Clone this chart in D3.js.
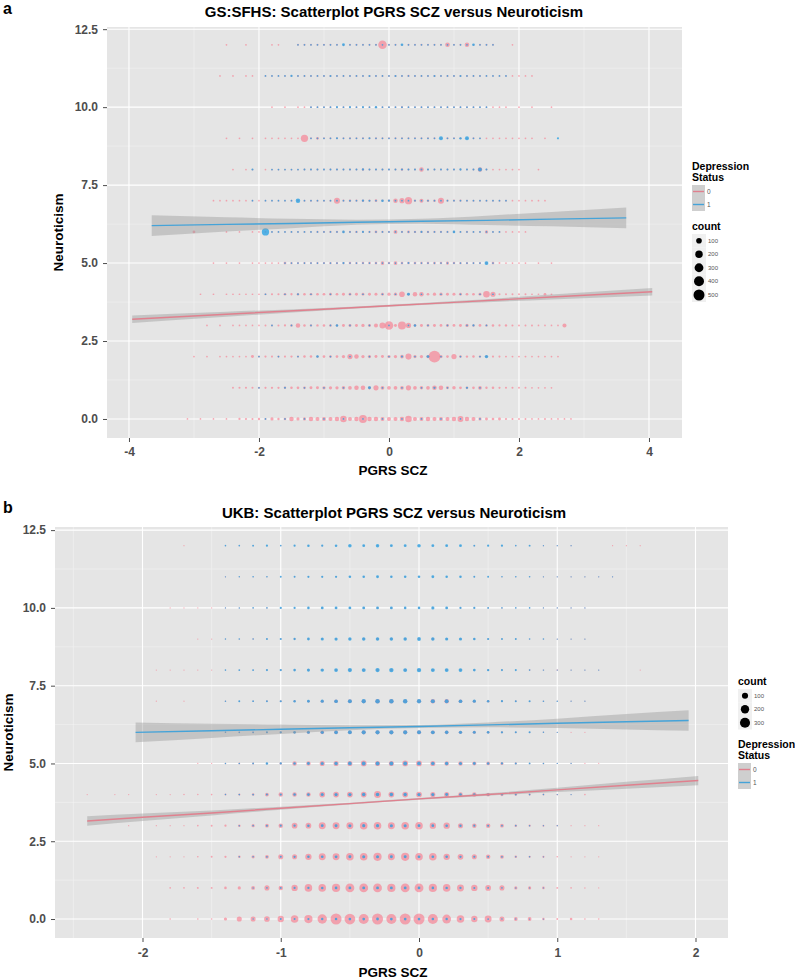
<!DOCTYPE html>
<html><head><meta charset="utf-8">
<script src="https://cdn.jsdelivr.net/npm/d3@7"></script>
<style>body{margin:0;background:#fff}svg{display:block}</style>
</head><body><svg id="c" width="795" height="980"></svg>
<script>
// ---------------- DATA ----------------
const neuroLevels = [0,1,2,3,4,5,6,7,8,9,10,11,12];
const binStep = 0.1;
const gsX0 = -3.2;   // first PGRS bin of GS:SFHS rows
const ukbX0 = -2.4;  // first PGRS bin of UKB rows
const yTicks = [0,2.5,5,7.5,10,12.5];
const gsTicksX = [-4,-2,0,2,4];
const ukbTicksX = [-2,-1,0,1,2];
const gsLegendCounts = [100,200,300,400,500];
const ukbLegendCounts = [100,200,300];
const statusLabels = ["0","1"];

// GS:SFHS counts, depression status 0 (rows = neuroticism 0..12, cols = PGRS bins from -3.2 by 0.1)
const gsCounts0 = [
[0,1,0,1,0,1,0,1,0,5, 4,3,6,4,20,6,10,55,20,20, 55,40,40,40,55,150,40,55,240,55, 55,40,40,40,55,150,40,40,55,40, 40,40,55,120,55,40,20,15,10,15, 4,3,2,2,1,1,2,1,1,1, 1],
[0,0,0,0,0,0,0,0,2,3, 3,3,4,4,5,5,6,8,10,10, 15,15,20,20,20,25,30,55,55,20, 80,30,30,30,30,80,30,25,30,55, 55,15,25,12,10,10,30,6,8,4, 3,3,2,2,1,1,1,1,0,0, 0],
[0,0,1,0,1,0,1,1,1,1, 1,15,3,4,3,4,3,5,4,8, 8,6,10,10,10,20,80,55,20,20, 15,15,20,20,30,120,20,20,20,600, 20,10,80,10,6,8,6,8,4,3, 2,2,2,2,1,1,1,1,1,0, 0],
[0,0,0,0,1,0,1,0,1,1, 1,1,1,2,3,3,4,8,55,8, 6,6,8,8,6,15,15,15,20,15, 40,120,280,15,240,80,10,15,12,15, 12,15,12,15,20,8,12,6,8,4, 6,3,2,2,2,1,1,1,1,41, 0],
[0,0,0,1,0,1,0,1,1,1, 1,1,1,3,3,4,10,5,8,8, 10,10,10,12,10,15,12,15,12,15, 15,15,20,20,100,10,55,55,10,20, 20,15,15,15,10,10,15,150,80,3, 2,2,2,2,1,1,10,1,0,0, 0],
[0,0,0,0,0,1,0,1,0,1, 0,1,1,1,1,1,12,6,4,5, 4,5,5,6,6,6,8,6,8,8, 10,30,8,35,10,8,10,8,8,10, 8,20,8,6,6,4,4,6,10,2, 1,1,1,1,0,1,0,1,0,0, 0],
[0,0,12,0,0,0,0,1,0,1, 0,1,1,1,1,1,1,2,2,2, 2,3,3,4,4,4,3,6,3,4, 10,4,3,35,4,10,6,6,6,4, 4,3,4,2,3,2,2,20,2,2, 1,1,1,1,0,0,0,0,0,0, 0],
[0,0,0,0,0,1,1,1,1,1, 1,1,1,1,1,1,1,2,4,2, 3,3,3,3,120,4,8,4,8,4, 10,4,6,55,80,190,6,41,8,8, 120,4,4,4,3,3,2,2,2,2, 2,1,1,1,1,1,1,0,0,0, 0],
[0,0,0,0,0,0,0,0,1,0, 1,1,0,1,1,1,1,1,1,2, 2,3,2,2,4,2,4,2,6,3, 3,3,3,3,6,3,3,55,3,3, 2,2,3,2,2,3,55,2,1,1, 1,1,1,0,0,1,0,0,0,0, 0],
[0,0,0,0,0,0,0,1,0,1, 0,1,0,1,1,1,1,1,1,190, 2,12,2,2,2,2,4,2,3,2, 4,2,2,3,2,2,2,2,2,2, 2,3,2,2,2,2,1,1,1,1, 1,1,1,1,1,0,1,0,0,0, 0],
[0,0,0,0,0,0,0,0,0,0, 0,0,0,0,1,0,1,0,1,1, 2,2,2,2,1,2,1,2,1,2, 2,2,2,2,4,2,2,2,2,2, 2,2,2,2,2,2,1,1,1,1, 1,0,1,0,1,0,0,1,0,0, 0],
[0,0,0,0,0,0,1,0,1,0, 1,1,0,1,1,1,1,1,2,2, 2,2,2,3,2,2,2,2,2,3, 2,2,2,3,2,4,2,2,2,3, 2,3,2,2,2,2,2,1,1,1, 1,1,1,1,1,0,0,0,0,0, 0],
[0,0,0,0,0,0,0,1,0,0, 1,0,0,0,1,1,0,0,2,2, 2,2,3,2,2,1,2,2,2,2, 3,280,2,2,1,2,2,3,2,2, 3,60,2,2,55,1,2,2,2,0, 0,1,0,0,0,0,0,0,0,0, 0]
];
// GS:SFHS counts, depression status 1
const gsCounts1 = [
[0,0,0,0,0,0,0,0,0,0, 0,0,0,1,0,0,1,0,0,1, 0,0,1,0,0,1,0,0,1,0, 0,1,0,0,1,0,0,1,0,0, 1,0,0,1,0,0,1,0,0,0, 0,0,0,0,0,0,0,0,0,0, 0],
[0,0,0,0,0,0,0,0,0,0, 0,0,1,0,0,0,2,0,0,1, 0,0,1,0,0,1,0,0,0,15, 0,1,0,0,1,0,0,1,0,5, 0,1,0,0,4,0,1,0,0,0, 0,0,0,0,0,0,0,0,0,0, 0],
[0,0,0,0,0,0,0,0,0,0, 0,0,1,0,0,1,0,0,1,0, 0,8,0,1,0,0,1,0,0,1, 0,0,1,0,3,0,1,0,12,0, 1,0,0,1,0,0,1,25,0,0, 0,0,0,0,0,0,0,0,0,0, 0],
[0,0,0,0,0,0,0,0,0,0, 0,0,0,0,1,0,0,1,0,0, 1,0,0,1,8,0,1,0,0,1, 0,0,1,0,0,1,8,0,1,0, 0,1,0,0,1,4,0,1,0,0, 0,0,0,0,0,0,0,0,0,0, 0],
[0,0,0,0,0,0,0,0,0,0, 0,0,0,1,0,0,1,0,2,0, 1,0,0,1,0,0,1,0,1,0, 0,1,0,1,0,15,0,1,0,0, 1,0,0,1,0,0,1,0,1,0, 0,0,0,0,0,0,0,0,0,0, 0],
[0,0,0,0,0,0,0,0,0,0, 0,0,0,0,0,0,1,1,1,1, 1,1,1,1,1,4,1,1,1,1, 1,1,1,1,1,3,1,1,1,1, 1,1,1,1,1,1,1,35,1,0, 0,0,0,0,0,0,0,0,0,0, 0],
[0,0,0,0,0,0,0,0,0,0, 0,0,0,190,1,1,1,1,1,1, 1,1,1,1,1,8,1,1,3,1, 1,1,1,1,1,1,1,3,1,1, 1,1,8,1,1,1,1,1,1,1, 0,0,0,0,0,0,0,0,0,0, 0],
[0,0,0,0,0,0,0,0,0,0, 0,1,0,1,1,1,1,1,55,1, 1,1,1,1,1,1,2,1,5,3, 1,8,4,1,1,1,1,1,1,1, 1,1,1,1,1,1,1,1,1,1, 1,0,0,0,0,0,0,0,0,0, 0],
[0,0,0,0,0,0,0,0,0,0, 0,3,0,0,1,1,1,1,1,2, 2,2,2,2,2,2,2,2,5,2, 2,2,2,2,4,2,2,2,2,2, 2,2,2,5,2,2,35,2,0,0, 0,0,0,0,0,0,0,0,0,0, 0],
[0,0,0,0,0,0,0,0,0,0, 0,0,0,0,0,0,0,0,0,0, 1,1,1,1,3,1,1,1,1,3, 1,1,1,1,1,1,1,1,1,1, 40,1,1,6,40,1,1,0,0,0, 0,0,0,0,0,0,0,0,4,0, 0],
[0,0,0,0,0,0,0,0,0,0, 0,0,0,0,0,0,0,0,0,0, 1,1,1,1,3,1,3,1,3,1, 6,1,1,1,2,1,1,1,1,1, 1,1,1,1,1,1,1,1,0,0, 0,0,0,0,0,0,0,0,0,0, 0],
[0,0,0,0,0,0,0,0,0,0, 0,0,0,1,1,1,1,5,1,1, 1,1,1,3,1,1,1,1,1,3, 1,1,1,3,1,1,1,1,1,3, 1,1,1,3,1,1,1,1,1,1, 1,0,0,0,0,0,0,0,0,0, 0],
[0,0,0,0,0,0,0,0,0,0, 0,0,0,0,0,0,0,0,1,1, 1,1,1,1,1,12,1,1,1,1, 1,1,1,1,10,1,1,1,1,1, 1,1,1,1,1,10,1,1,1,0, 0,0,0,0,0,0,0,0,0,0, 0]
];
// UKB counts, depression status 0 (cols = PGRS bins from -2.4 by 0.1)
const ukbCounts0 = [
[0,0,0,0,0,0,3,0,3,3,21,65,65,85,108,161,192,261,363,341,300,363,300,363,363,300,225,160,108,133,65,33,33,12,5,12,3,3,0,0,0],
[0,0,0,0,0,0,3,3,5,5,12,21,33,65,48,108,161,161,192,225,225,225,192,225,225,192,161,133,108,85,65,21,21,12,5,3,2,1,0,0,0],
[0,0,0,0,0,1,1,1,3,5,8,12,21,33,65,65,108,133,133,161,161,192,133,192,161,161,108,85,65,48,33,12,8,8,3,1,1,1,0,0,0],
[0,0,0,1,0,1,1,1,3,5,8,12,21,33,48,85,85,133,133,133,161,161,133,161,161,108,108,65,48,48,33,12,8,5,3,1,1,1,0,0,0],
[1,0,1,1,0,1,1,2,2,3,5,8,12,33,48,48,48,85,85,85,85,133,85,85,85,65,65,48,48,33,21,12,8,5,3,1,3,0,0,0,0],
[0,0,0,0,0,0,0,0,1,1,3,4,6,5,10,48,48,65,65,65,85,65,65,85,85,65,48,48,40,30,20,8,3,3,1,1,1,1,0,0,0],
[0,0,0,0,0,0,0,0,0,0,2,3,4,5,6,10,20,30,35,35,40,40,40,40,40,35,30,25,20,12,8,5,3,2,1,1,1,0,0,0,0],
[0,0,0,0,0,1,0,1,0,0,2,2,3,4,5,8,12,20,30,35,40,45,45,40,40,50,50,30,20,10,6,4,3,2,1,1,1,0,0,0,0],
[0,0,0,0,0,1,1,1,1,1,1,2,2,3,4,5,6,8,10,12,12,14,14,12,12,10,9,7,5,4,3,2,3,2,3,1,1,1,0,0,1],
[0,0,0,0,0,0,0,0,1,1,1,1,2,2,3,5,4,6,7,8,9,9,9,9,9,12,7,6,4,3,2,2,1,1,1,1,1,0,0,0,0],
[0,0,0,0,0,0,1,1,1,1,1,1,1,2,2,2,3,4,5,5,5,6,6,5,5,4,4,3,3,2,2,1,1,1,1,1,1,0,0,0,0],
[0,0,0,0,0,0,0,0,0,0,1,1,1,1,1,2,2,2,3,3,3,3,3,3,3,3,2,2,2,1,1,1,1,1,1,1,1,1,1,0,0],
[0,0,0,0,0,0,0,1,0,0,1,1,1,1,1,1,2,2,2,2,2,2,2,2,2,2,2,1,2,1,1,1,1,1,1,1,0,0,1,1,1]
];
// UKB counts, depression status 1
const ukbCounts1 = [
[0,0,0,0,0,0,0,0,0,0,0,0,2,3,5,6,8,10,12,14,14,15,14,14,14,12,10,8,6,4,3,2,1,1,0,0,0,0,0,0,0],
[0,0,0,0,0,0,0,0,0,0,0,0,2,3,5,7,9,11,13,15,16,16,16,15,14,12,10,8,6,5,3,2,1,1,0,0,0,0,0,0,0],
[0,0,0,0,0,0,0,0,0,0,0,2,3,4,6,8,11,13,15,17,18,18,17,16,15,13,11,9,7,5,4,2,2,1,0,0,0,0,0,0,0],
[0,0,0,0,0,0,0,0,0,0,0,2,3,5,7,9,12,15,17,19,20,20,19,18,16,14,12,10,7,6,4,3,2,1,1,0,0,0,0,0,0],
[0,0,0,0,0,0,0,0,0,0,2,3,4,6,8,11,14,18,21,24,26,27,26,25,23,20,17,14,11,8,6,4,3,2,1,1,0,0,0,0,0],
[0,0,0,0,0,0,0,0,0,0,2,3,4,10,8,12,16,20,26,30,34,36,36,35,32,28,24,20,16,12,9,6,4,2,1,1,0,0,0,0,0],
[0,0,0,0,0,0,0,0,0,0,2,3,4,6,9,13,18,24,30,36,40,42,42,40,37,33,28,23,18,13,9,6,6,2,1,0,0,0,0,0,0],
[0,0,0,0,0,0,0,0,0,0,2,5,4,5,7,10,15,22,30,38,44,50,50,48,44,40,36,30,22,12,8,5,6,3,2,1,1,0,0,0,0],
[0,0,0,0,0,0,0,0,0,0,3,4,5,7,8,12,20,26,32,42,36,44,46,36,46,36,34,32,14,10,6,6,3,2,1,1,1,1,0,0,0],
[0,0,0,0,0,0,0,0,0,0,2,3,3,6,7,9,15,20,22,26,27,27,27,27,32,26,21,21,12,8,5,5,3,3,1,1,1,0,0,0,0],
[0,0,0,0,0,0,0,0,0,0,1,2,3,3,8,8,12,16,16,16,16,16,16,12,12,21,16,8,8,5,3,3,3,1,1,1,1,0,0,0,0],
[0,0,0,0,0,0,0,0,0,0,1,2,3,3,5,5,8,8,8,12,12,16,12,12,12,16,12,12,5,5,3,3,3,1,1,1,1,1,1,0,0],
[0,0,0,0,0,0,0,0,0,0,3,3,5,8,3,8,12,8,12,27,16,27,16,16,27,16,16,16,5,8,8,3,5,1,1,1,0,0,0,0,0]
];
// linear fits: [PGRS, fitted neuroticism, CI half-width]
const gsFit0 = [[-3.95,3.20,0.12],[-2.5,3.36,0.08],[-1,3.52,0.04],[0,3.63,0.03],[1,3.74,0.04],[2.5,3.91,0.08],[4.05,4.08,0.12]];
const gsFit1 = [[-3.65,6.20,0.33],[-2.5,6.24,0.23],[-1.5,6.27,0.15],[-0.5,6.31,0.08],[0.5,6.34,0.08],[1.5,6.37,0.15],[2.5,6.41,0.23],[3.65,6.45,0.33]];
const ukbFit0 = [[-2.4,3.15,0.15],[-2,3.27,0.12],[-1.5,3.41,0.08],[-1,3.56,0.05],[-0.5,3.71,0.03],[0,3.86,0.03],[0.5,4.00,0.04],[1,4.15,0.07],[1.5,4.30,0.11],[2.02,4.45,0.15]];
const ukbFit1 = [[-2.05,6.00,0.32],[-1.5,6.05,0.23],[-1,6.10,0.15],[-0.5,6.15,0.08],[0,6.19,0.05],[0.5,6.24,0.08],[1,6.29,0.15],[1.5,6.34,0.25],[1.95,6.38,0.33]];

// ---------------- DRAW ----------------
const FONT = '"Liberation Sans", Arial, Helvetica, sans-serif';
const svg = d3.select('#c').attr('font-family', FONT);
const pinkCol = '#F8788A', blueCol = '#1F9FE4';
const pinkLine = '#E0808E', blueLine = '#45A3D8';

function fmtInt(d){ return (d<0?'-':'') + Math.abs(d); }

function drawPanel(o){
  const x = d3.scaleLinear().domain(o.xDom).range([o.L, o.R]);
  const y = d3.scaleLinear().domain(o.yDom).range([o.B, o.T]);
  const g = svg.append('g');
  g.append('rect').attr('x',o.L).attr('y',o.T).attr('width',o.R-o.L).attr('height',o.B-o.T).attr('fill','#E5E5E5');
  const gridV = (vals, col, w) => g.append('g').selectAll('line').data(vals).join('line')
      .attr('x1',d=>x(d)).attr('x2',d=>x(d)).attr('y1',o.T).attr('y2',o.B).attr('stroke',col).attr('stroke-width',w);
  const gridH = (vals, col, w) => g.append('g').selectAll('line').data(vals).join('line')
      .attr('y1',d=>y(d)).attr('y2',d=>y(d)).attr('x1',o.L).attr('x2',o.R).attr('stroke',col).attr('stroke-width',w);
  gridV(o.xMinor,'#F2F2F2',0.6); gridH(o.yMinor,'#F2F2F2',0.6);
  gridV(o.xTicks,'#FFFFFF',1.1); gridH(yTicks,'#FFFFFF',1.1);

  const pts = [];
  [[o.c0,0],[o.c1,1]].forEach(([m,s]) => m.forEach((row,j) => row.forEach((c,i) => {
    if (c > 0) pts.push({x: o.x0 + i*binStep, y: neuroLevels[j], c, s});
  })));
  g.append('g').selectAll('circle').data(pts).join('circle')
    .attr('cx',d=>x(d.x)).attr('cy',d=>y(d.y)).attr('r',d=>o.size(d.c))
    .attr('fill',d=>d.s?blueCol:pinkCol).attr('fill-opacity',d=>d.s?0.75:0.62);

  o.fits.forEach(([data,col]) => {
    const area = d3.area().curve(d3.curveMonotoneX).x(d=>x(d[0])).y0(d=>y(d[1]-d[2])).y1(d=>y(d[1]+d[2]));
    g.append('path').attr('d',area(data)).attr('fill','#999999').attr('fill-opacity',0.43);
    const line = d3.line().x(d=>x(d[0])).y(d=>y(d[1]));
    g.append('path').attr('d',line(data)).attr('fill','none').attr('stroke',col).attr('stroke-width',1.4);
  });

  const yAx = g.append('g').attr('transform',`translate(${o.L},0)`)
    .call(d3.axisLeft(y).tickValues(yTicks).tickFormat(d=>d.toFixed(1)).tickSize(4).tickPadding(5));
  const xAx = g.append('g').attr('transform',`translate(0,${o.B})`)
    .call(d3.axisBottom(x).tickValues(o.xTicks).tickFormat(fmtInt).tickSize(4).tickPadding(o.xPad));
  [yAx,xAx].forEach(a => {
    a.attr('font-family',FONT).attr('font-size',12).attr('font-weight','bold');
    a.select('.domain').remove();
    a.selectAll('line').attr('stroke','#4D4D4D');
    a.selectAll('text').attr('fill','#4D4D4D');
  });

  svg.append('text').attr('x',394).attr('y',o.titleY).attr('text-anchor','middle')
    .attr('font-size',15).attr('font-weight','bold').attr('fill','#000').text(o.title);
  svg.append('text').attr('x',3).attr('y',o.tagY).attr('font-size',16).attr('font-weight','bold').text(o.tag);
  svg.append('text').attr('x',393).attr('y',o.xLabY).attr('text-anchor','middle')
    .attr('font-size',13.5).attr('font-weight','bold').text('PGRS SCZ');
  svg.append('text').attr('transform',`translate(${o.yLabX},${(o.T+o.B)/2}) rotate(-90)`).attr('text-anchor','middle')
    .attr('font-size',13.5).attr('font-weight','bold').text('Neuroticism');
}

function legendStatus(lx, ty){
  const g = svg.append('g');
  g.append('text').attr('x',lx).attr('y',ty).attr('font-size',10.5).attr('font-weight','bold').text('Depression');
  g.append('text').attr('x',lx).attr('y',ty+11).attr('font-size',10.5).attr('font-weight','bold').text('Status');
  [pinkLine, blueLine].forEach((c,i) => {
    const ky = ty + 15 + i*13;
    g.append('rect').attr('x',lx).attr('y',ky).attr('width',13).attr('height',13).attr('fill','#CFCFCF');
    g.append('line').attr('x1',lx+1).attr('x2',lx+12).attr('y1',ky+6.5).attr('y2',ky+6.5).attr('stroke',c).attr('stroke-width',1.4);
    g.append('text').attr('x',lx+15).attr('y',ky+8.5).attr('font-size',6.5).attr('fill','#555').text(statusLabels[i]);
  });
}
function legendCount(lx, ty, counts, size){
  const g = svg.append('g');
  g.append('text').attr('x',lx).attr('y',ty).attr('font-size',10.5).attr('font-weight','bold').text('count');
  let ky = ty + 4;
  counts.forEach(c => {
    const r = size(c), h = Math.max(13.5, 2*r + 3);
    g.append('rect').attr('x',lx).attr('y',ky).attr('width',14).attr('height',h).attr('fill','#F0F0F0');
    g.append('circle').attr('cx',lx+7).attr('cy',ky+h/2).attr('r',r).attr('fill','#000');
    g.append('text').attr('x',lx+16).attr('y',ky+h/2+2.2).attr('font-size',6).attr('fill','#555').text(c);
    ky += h;
  });
}

const gsSize = d3.scaleSqrt().domain([0,500]).range([0.65,5.5]);
const ukbSize = d3.scaleSqrt().domain([0,300]).range([0.35,5.05]);

drawPanel({L:107,R:682,T:27,B:438, xDom:[-4.338,4.508], yDom:[-0.61,12.57],
  xTicks:gsTicksX, xMinor:[-3,-1,1,3], yMinor:[1.25,3.75,6.25,8.75,11.25],
  c0:gsCounts0, c1:gsCounts1, x0:gsX0, size:gsSize, xPad:5,
  fits:[[gsFit0,pinkLine],[gsFit1,blueLine]],
  title:'GS:SFHS: Scatterplot PGRS SCZ versus Neuroticism', titleY:17, tag:'a', tagY:14,
  xLabY:475, yLabX:63});
legendStatus(692,170);
legendCount(692,230,gsLegendCounts,gsSize);

drawPanel({L:55,R:728,T:527,B:938, xDom:[-2.633,2.235], yDom:[-0.61,12.6],
  xTicks:ukbTicksX, xMinor:[-2.5,-1.5,-0.5,0.5,1.5], yMinor:[1.25,3.75,6.25,8.75,11.25],
  c0:ukbCounts0, c1:ukbCounts1, x0:ukbX0, size:ukbSize, xPad:6,
  fits:[[ukbFit0,pinkLine],[ukbFit1,blueLine]],
  title:'UKB: Scatterplot PGRS SCZ versus Neuroticism', titleY:517.5, tag:'b', tagY:513,
  xLabY:977, yLabX:13});
legendCount(738,685,ukbLegendCounts,ukbSize);
legendStatus(738,748);
</script>
</body></html>
